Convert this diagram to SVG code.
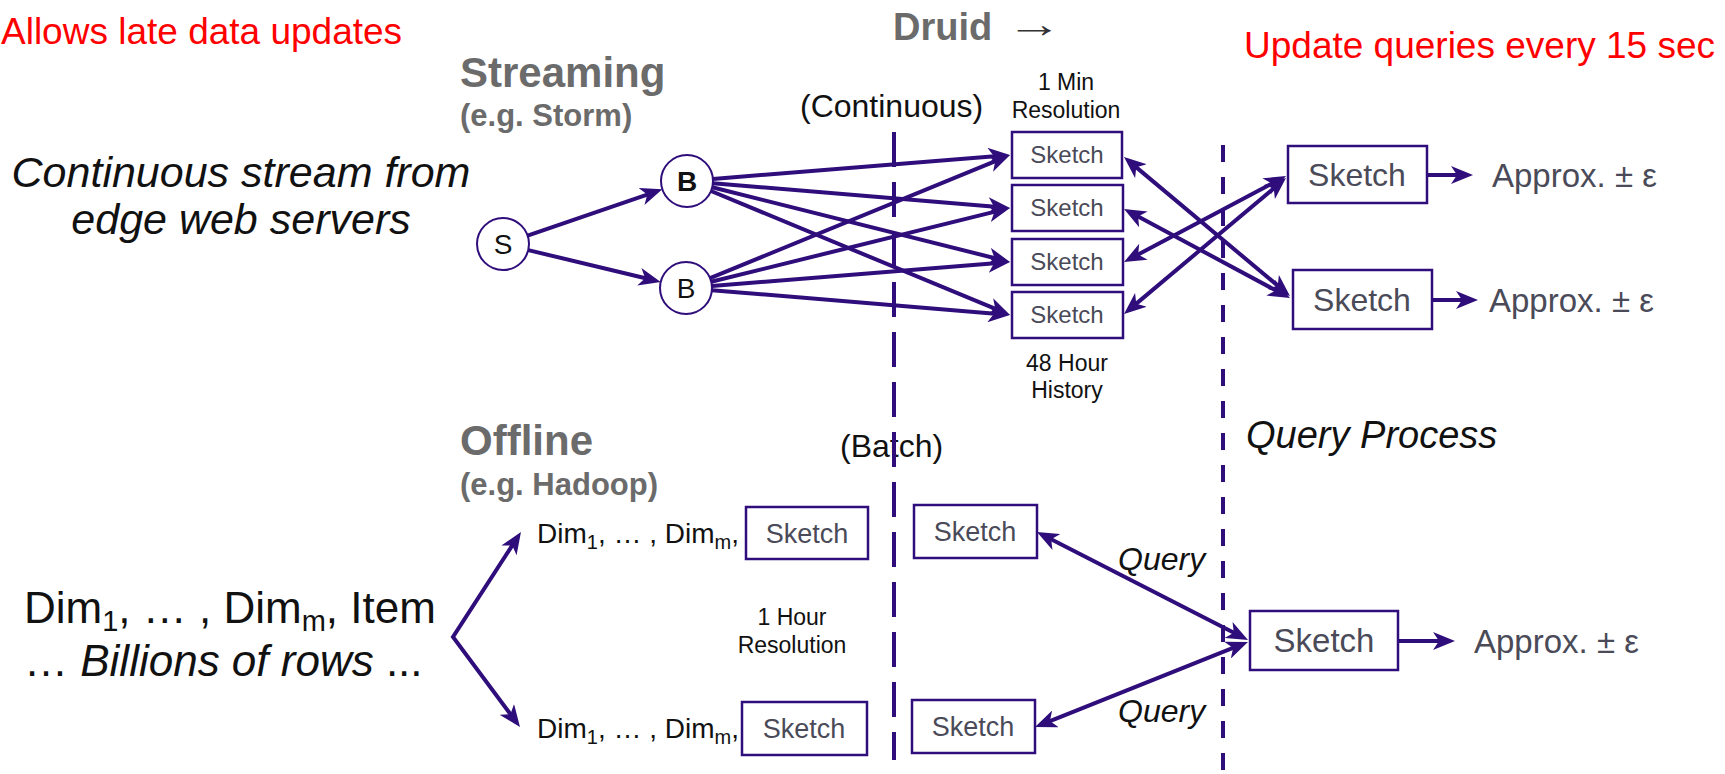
<svg xmlns="http://www.w3.org/2000/svg" width="1725" height="774" viewBox="0 0 1725 774">
  <defs>
    <marker id="head" viewBox="0 0 22 18" refX="16" refY="9" markerWidth="22" markerHeight="18" markerUnits="userSpaceOnUse" orient="auto-start-reverse">
      <path d="M0,0 L22,9 L0,18 L6,9 z" fill="#2f0d7b"/>
    </marker>
  </defs>
  <style>
    text { font-family: "Liberation Sans", Arial, sans-serif; }
    .red { fill: #ff0000; font-size: 37px; }
    .head { fill: #6b6b6b; font-weight: bold; font-size: 42px; }
    .sub { fill: #6b6b6b; font-weight: bold; font-size: 31px; }
    .phase { fill: #111; font-size: 32px; }
    .note { fill: #111; font-size: 23px; text-anchor: middle; }
    .big { fill: #111; font-size: 43px; font-style: italic; text-anchor: middle; }
    .rows { fill: #111; font-size: 44px; }
    .dim { fill: #111; font-size: 28px; }
    .q { fill: #111; font-size: 32px; font-style: italic; }
    .box { fill: #fff; stroke: #2f0d7b; stroke-width: 2.5; }
    .node { fill: #fff; stroke: #2f0d7b; stroke-width: 2; }
    .sk { fill: #4a4a58; text-anchor: middle; }
    .s24 { font-size: 24px; }
    .s27 { font-size: 27px; }
    .s32 { font-size: 32px; }
    .approx { fill: #4a4a58; font-size: 33px; }
    .lbl { fill: #111; font-size: 28px; text-anchor: middle; }
    .edge { fill: none; stroke: #2f0d7b; stroke-width: 4; marker-end: url(#head); }
    .both { marker-start: url(#head); }
    .divider { fill: none; stroke: #2f0d7b; stroke-width: 4; }
  </style>

  <!-- headings and side notes -->
  <g id="titles">
    <text class="red" x="1" y="44">Allows late data updates</text>
    <text class="red" x="1244" y="58">Update queries every 15 sec</text>
    <text x="893" y="40" fill="#6b6b6b" font-size="38" font-weight="bold">Druid</text>
    <text x="1006" y="37" fill="#333" font-size="38" textLength="56" lengthAdjust="spacingAndGlyphs">→</text>
    <text class="head" x="460" y="87">Streaming</text>
    <text class="sub" x="460" y="126">(e.g. Storm)</text>
    <text class="head" x="460" y="455">Offline</text>
    <text class="sub" x="460" y="495">(e.g. Hadoop)</text>
    <text class="phase" x="800" y="117">(Continuous)</text>
    <text class="phase" x="840" y="457">(Batch)</text>
    <text x="1246" y="448" fill="#111" font-size="38" font-style="italic">Query Process</text>
    <text class="note" x="1066" y="90">1 Min</text>
    <text class="note" x="1066" y="118">Resolution</text>
    <text class="note" x="1067" y="371">48 Hour</text>
    <text class="note" x="1067" y="398">History</text>
    <text class="note" x="792" y="625">1 Hour</text>
    <text class="note" x="792" y="653">Resolution</text>
  </g>

  <!-- data sources -->
  <g id="stream-source">
    <text class="big" x="241" y="187">Continuous stream from</text>
    <text class="big" x="241" y="234">edge web servers</text>
  </g>
  <g id="batch-source">
    <text class="rows" x="24" y="623">Dim<tspan dy="8" font-size="29">1</tspan><tspan dy="-8">, … , Dim</tspan><tspan dy="8" font-size="29">m</tspan><tspan dy="-8">, Item</tspan></text>
    <text class="rows" x="24" y="676">… <tspan font-style="italic">Billions of rows</tspan> ...</text>
  </g>

  <!-- section dividers -->
  <g id="dividers">
    <line class="divider" x1="894" y1="132" x2="894" y2="760" stroke-dasharray="35 15"/>
    <line class="divider" x1="1223" y1="145" x2="1223" y2="774" stroke-dasharray="17 15"/>
  </g>

  <!-- connectors -->
  <g id="connectors">
    <path class="edge" d="M527.6,235.6 L656.7,191.3"/>
    <path class="edge" d="M528.3,250.1 L654.9,280.5"/>

    <path class="edge" d="M712.9,178.9 L1004,155.5"/>
    <path class="edge" d="M712.9,183.2 L1004,207.5"/>
    <path class="edge" d="M712.2,187.3 L1004.2,260.5"/>
    <path class="edge" d="M711,191 L1004.5,312.7"/>
    <path class="edge" d="M710.1,278.1 L1004.5,157.3"/>
    <path class="edge" d="M711.2,281.8 L1004.2,209.4"/>
    <path class="edge" d="M711.9,285.9 L1004,262.5"/>
    <path class="edge" d="M711.9,290.2 L1004,314.5"/>

    <path class="edge both" d="M1128.6,160.9 L1285.4,292.1"/>
    <path class="edge both" d="M1129.3,211.8 L1284.7,295.2"/>
    <path class="edge both" d="M1129.3,259.2 L1280.7,178.8"/>
    <path class="edge both" d="M1128.6,310.1 L1281.4,181.9"/>

    <path class="edge" d="M1427,175 L1467,175"/>
    <path class="edge" d="M1432,300 L1472,300"/>

    <path class="edge both" d="M517.7,537 L453,637 L516.4,722.2"/>

    <path class="edge both" d="M1042.3,534.7 L1242.7,637.3"/>
    <path class="edge both" d="M1040.6,724.8 L1242.4,644.2"/>
    <path class="edge" d="M1398,641 L1449,641"/>

    <text class="q" x="1118" y="570">Query</text>
    <text class="q" x="1118" y="722">Query</text>
  </g>

  <!-- bolts and spout -->
  <g id="spout">
    <circle class="node" cx="503" cy="244" r="26"/>
    <text class="lbl" x="503" y="254">S</text>
  </g>
  <g id="bolt-1">
    <circle class="node" cx="687" cy="181" r="26"/>
    <text class="lbl" x="687" y="191" font-weight="bold">B</text>
  </g>
  <g id="bolt-2">
    <circle class="node" cx="686" cy="288" r="26"/>
    <text class="lbl" x="686" y="298">B</text>
  </g>

  <!-- realtime sketches -->
  <g id="rt-sketch-1"><rect class="box" x="1012" y="132" width="110" height="46"/><text class="sk s24" x="1067" y="163">Sketch</text></g>
  <g id="rt-sketch-2"><rect class="box" x="1012" y="185" width="111" height="46"/><text class="sk s24" x="1067" y="216">Sketch</text></g>
  <g id="rt-sketch-3"><rect class="box" x="1012" y="239" width="111" height="46"/><text class="sk s24" x="1067" y="270">Sketch</text></g>
  <g id="rt-sketch-4"><rect class="box" x="1012" y="292" width="111" height="46"/><text class="sk s24" x="1067" y="323">Sketch</text></g>

  <!-- query-side sketches -->
  <g id="query-sketch-1">
    <rect class="box" x="1288" y="146" width="139" height="57"/>
    <text class="sk s32" x="1357" y="186">Sketch</text>
    <text class="approx" x="1492" y="187">Approx. ± ε</text>
  </g>
  <g id="query-sketch-2">
    <rect class="box" x="1293" y="270" width="139" height="59"/>
    <text class="sk s32" x="1362" y="311">Sketch</text>
    <text class="approx" x="1489" y="312">Approx. ± ε</text>
  </g>

  <!-- batch rows and sketches -->
  <g id="batch-row-1">
    <text class="dim" x="537" y="543">Dim<tspan dy="6" font-size="20">1</tspan><tspan dy="-6">, … , Dim</tspan><tspan dy="6" font-size="20">m</tspan><tspan dy="-6">,</tspan></text>
    <rect class="box" x="746" y="507" width="122" height="52"/>
    <text class="sk s27" x="807" y="543">Sketch</text>
  </g>
  <g id="batch-row-2">
    <text class="dim" x="537" y="738">Dim<tspan dy="6" font-size="20">1</tspan><tspan dy="-6">, … , Dim</tspan><tspan dy="6" font-size="20">m</tspan><tspan dy="-6">,</tspan></text>
    <rect class="box" x="742" y="702" width="125" height="53"/>
    <text class="sk s27" x="804" y="738">Sketch</text>
  </g>
  <g id="batch-sketch-1"><rect class="box" x="914" y="505" width="123" height="53"/><text class="sk s27" x="975" y="541">Sketch</text></g>
  <g id="batch-sketch-2"><rect class="box" x="912" y="700" width="123" height="53"/><text class="sk s27" x="973" y="736">Sketch</text></g>

  <g id="merged-sketch">
    <rect class="box" x="1250" y="611" width="148" height="59"/>
    <text class="sk" x="1324" y="652" font-size="33">Sketch</text>
    <text class="approx" x="1474" y="653">Approx. ± ε</text>
  </g>
</svg>
